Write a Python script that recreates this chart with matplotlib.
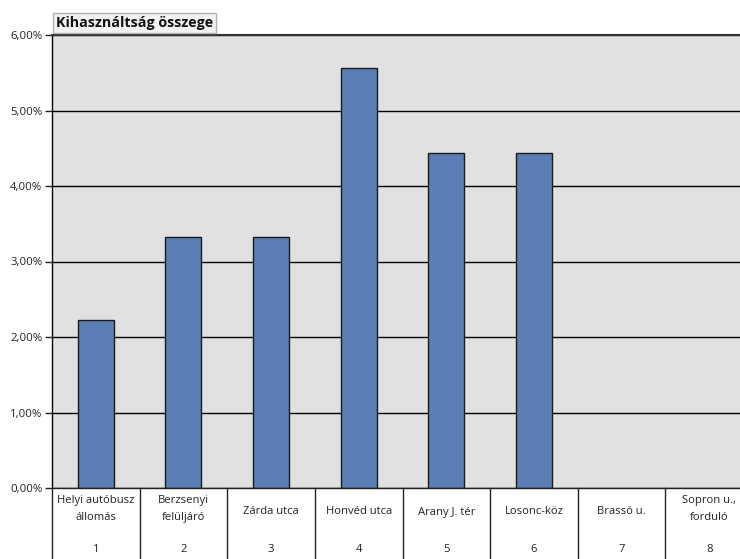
import matplotlib
matplotlib.use("Agg")
import matplotlib.pyplot as plt
import matplotlib.transforms as mtransforms
from matplotlib.ticker import FuncFormatter, MultipleLocator

categories = ["Helyi autóbusz\nállomás", "Berzsenyi\nfelüljáró", "Zárda utca", "Honvéd utca",
              "Arany J. tér", "Losonc-köz", "Brassó u.", "Sopron u.,\nforduló"]
numbers = ["1", "2", "3", "4", "5", "6", "7", "8"]
values = [2.22, 3.33, 3.33, 5.56, 4.44, 4.44, 0.0, 0.0]
title = "Kihasználtság összege"

plt.rcParams['font.family'] = ['Open Sans', 'DejaVu Sans']

W, H = 740, 559
fig = plt.figure(figsize=(W / 100, H / 100), dpi=100)
fig.patch.set_facecolor("white")
left, right, top, bottom = 52, 753, 35, 488
ax = fig.add_axes([left / W, 1 - bottom / H, (right - left) / W, (bottom - top) / H])
ax.set_facecolor("#e1e1e1")

x = list(range(len(categories)))
bars = ax.bar(x, values, width=0.41, color="#5b7fb5", edgecolor="#1a1a1a", linewidth=1.0, zorder=3)
for b, v in zip(bars, values):
    if v == 0:
        b.set_linewidth(0)

ax.set_xlim(-0.5, len(categories) - 0.5)
ax.set_ylim(0, 6)
ax.yaxis.set_major_locator(MultipleLocator(1))
ax.yaxis.set_major_formatter(FuncFormatter(lambda v, p: f"{v:.2f}".replace(".", ",") + "%"))
ax.grid(axis="y", color="black", linewidth=1.0, zorder=1)
ax.tick_params(axis="y", length=5, width=1, labelsize=8.2, pad=2, colors="#222222")
ax.set_xticks([])
for s in ["right", "bottom"]:
    ax.spines[s].set_visible(False)
ax.spines["left"].set_linewidth(1.0)
ax.spines["top"].set_linewidth(1.5)
ax.spines["top"].set_color("#333333")

trans = mtransforms.blended_transform_factory(ax.transData, ax.transAxes)
ph = (bottom - top)
for i, (c, n) in enumerate(zip(categories, numbers)):
    ypx = 509 if "\n" in c else 512
    ax.text(i, -(ypx - bottom) / ph, c, transform=trans, ha="center", va="center",
            fontsize=8.1, color="#222222", linespacing=1.75)
    ax.text(i, -(549 - bottom) / ph, n, transform=trans, ha="center", va="center",
            fontsize=8.1, color="#222222")
for i in range(len(categories) + 1):
    ax.plot([i - 0.5, i - 0.5], [0, -(H + 10 - bottom) / ph], transform=trans,
            color="#222222", linewidth=1.0, clip_on=False)
ax.plot([-0.5, len(categories) - 0.5], [0, 0], transform=trans, color="#222222",
        linewidth=1.0, clip_on=False, zorder=5)

fig.text(56 / W, 1 - 23 / H, title, ha="left", va="center", fontsize=10.3, fontweight="bold",
         color="#111111",
         bbox=dict(boxstyle="square,pad=0.2", facecolor="#f2f2f2", edgecolor="#b0b0b0", linewidth=1))

fig.savefig("out.png", dpi=100)
